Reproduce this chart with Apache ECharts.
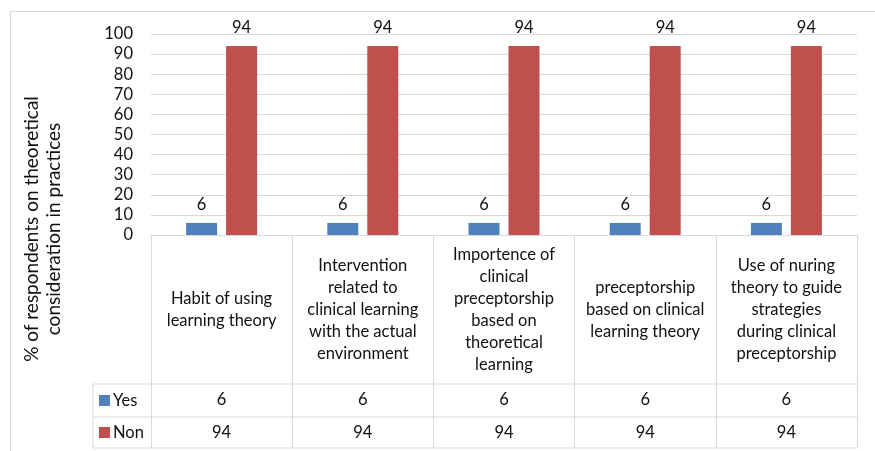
<!DOCTYPE html>
<html><head><meta charset="utf-8">
<script src="https://cdn.jsdelivr.net/npm/echarts@6/dist/echarts.min.js"></script>
<style>html,body{margin:0;padding:0;background:#fff}#c{width:875px;height:451px}</style>
</head><body><div id="c"></div>
<script>
const categories = [
  'Habit of using\nlearning theory',
  'Intervention\nrelated to\nclinical learning\nwith the actual\nenvironment',
  'Importence of\nclinical\npreceptorship\nbased on\ntheoretical\nlearning',
  'preceptorship\nbased on clinical\nlearning theory',
  'Use of nuring\ntheory to guide\nstrategies\nduring clinical\npreceptorship'
];
const seriesNames = ['Yes', 'Non'];
const yesValues = [6, 6, 6, 6, 6];
const nonValues = [94, 94, 94, 94, 94];
const seriesColors = ['#4f81bd', '#c0504d'];
const yTitle = '% of respondents on theoretical\nconsideration in practices';

const FONT = 'Lato';
const TXT = '#111';
const LINE = '#d9d9d9';

const chart = echarts.init(document.getElementById('c'));
const rowOffsets = [149, 182, 213]; // header bottom, yes bottom, non bottom
const valueRows = [yesValues, nonValues];

const option = {
  animation: false,
  textStyle: { fontFamily: FONT },
  grid: { left: 151, right: 18, top: 34, bottom: 216 },
  xAxis: [
    {
      type: 'category', data: categories, position: 'bottom',
      axisLine: { show: true, lineStyle: { color: LINE, width: 1 } },
      axisTick: { show: true, length: 213, lineStyle: { color: LINE, width: 1 } },
      axisLabel: { interval: 0, margin: 74.5, verticalAlign: 'middle', align: 'center',
        fontSize: 16.5, lineHeight: 22, color: TXT, fontFamily: FONT }
    },
    {
      type: 'category', data: categories, position: 'bottom',
      axisLine: { show: false }, axisTick: { show: false },
      axisLabel: { interval: 0, margin: 165, verticalAlign: 'middle',
        formatter: (v, i) => String(yesValues[i]), fontSize: 16.5, color: TXT, fontFamily: FONT }
    },
    {
      type: 'category', data: categories, position: 'bottom',
      axisLine: { show: false }, axisTick: { show: false },
      axisLabel: { interval: 0, margin: 197.5, verticalAlign: 'middle',
        formatter: (v, i) => String(nonValues[i]), fontSize: 16.5, color: TXT, fontFamily: FONT }
    }
  ],
  yAxis: {
    type: 'value', min: 0, max: 100, interval: 10,
    axisLine: { show: false }, axisTick: { show: false },
    splitLine: { lineStyle: { color: LINE, width: 1 } },
    axisLabel: { fontSize: 16.5, color: TXT, margin: 18, fontFamily: FONT }
  },
  series: [
    { name: seriesNames[0], type: 'bar', data: yesValues, barWidth: 31, barGap: '29%',
      itemStyle: { color: seriesColors[0] },
      label: { show: true, position: 'top', distance: 10, fontSize: 16.5, color: TXT, fontFamily: FONT } },
    { name: seriesNames[1], type: 'bar', data: nonValues, barWidth: 31, barGap: '29%',
      itemStyle: { color: seriesColors[1] },
      label: { show: true, position: 'top', distance: 10, fontSize: 16.5, color: TXT, fontFamily: FONT } }
  ]
};
chart.setOption(option);

// table frame built from the grid geometry
const rect = chart.getModel().getComponent('grid').coordinateSystem.getRect();
const x0 = rect.x, x1 = rect.x + rect.width, yb = rect.y + rect.height;
const legendX = x0 - 58;
const g = [];
const ln = (ax, ay, bx, by) => ({ type: 'line', silent: true,
  shape: { x1: ax, y1: ay, x2: bx, y2: by }, style: { stroke: LINE, lineWidth: 1 } });
rowOffsets.forEach(o => g.push(ln(legendX, yb + o, x1, yb + o)));
g.push(ln(legendX, yb + rowOffsets[0], legendX, yb + rowOffsets[2]));
// outer chart border
g.push(ln(10.5, 11.5, 875, 11.5));
g.push(ln(10.5, 11.5, 10.5, 451));
// legend keys in table
valueRows.forEach((vals, k) => {
  const top = yb + rowOffsets[k], bot = yb + rowOffsets[k + 1];
  const cy = (top + bot) / 2;
  g.push({ type: 'rect', silent: true, shape: { x: legendX + 6, y: cy - 5.5, width: 11, height: 11 },
    style: { fill: seriesColors[k] } });
  g.push({ type: 'text', silent: true, x: legendX + 20, y: cy,
    style: { text: seriesNames[k], fill: TXT, font: '16.5px ' + FONT, textVerticalAlign: 'middle' } });
});
// y axis title
g.push({ type: 'text', silent: true, x: 43, y: 229, rotation: Math.PI / 2,
  style: { text: yTitle, fill: TXT, font: '19px ' + FONT, textAlign: 'center',
    textVerticalAlign: 'middle', lineHeight: 22 } });
chart.setOption({ graphic: { elements: g } });
</script>
</body></html>
